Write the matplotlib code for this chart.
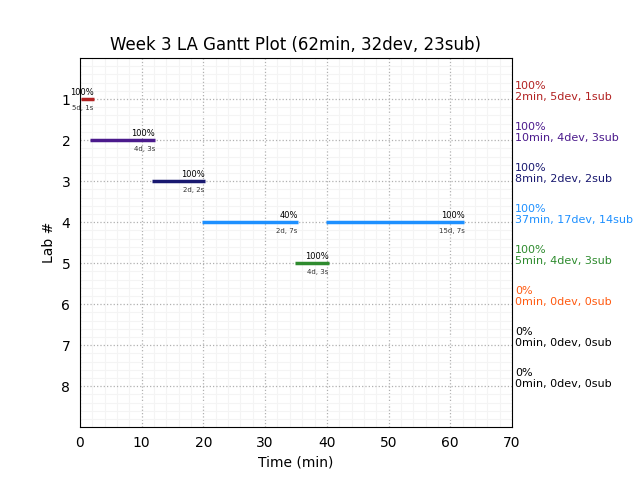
import matplotlib
matplotlib.use('Agg')
import matplotlib.pyplot as plt
from matplotlib.ticker import MultipleLocator

# Datos (segmentos por laboratorio)
seg_lab = [1, 2, 3, 4, 4, 5]
seg_start = [0.1, 1.7, 11.7, 19.8, 39.8, 34.8]
seg_end = [2.2, 12.2, 20.2, 35.3, 62.3, 40.3]
seg_pct = ['100%', '100%', '100%', '40%', '100%', '100%']
seg_info = ['5d, 1s', '4d, 3s', '2d, 2s', '2d, 7s', '15d, 7s', '4d, 3s']

labs = [1, 2, 3, 4, 5, 6, 7, 8]
lab_pct = ['100%', '100%', '100%', '100%', '100%', '0%', '0%', '0%']
lab_min = [2, 10, 8, 37, 5, 0, 0, 0]
lab_dev = [5, 4, 2, 17, 4, 0, 0, 0]
lab_sub = [1, 3, 2, 14, 3, 0, 0, 0]
lab_colors = ['#b22222', '#4b1a8c', '#191970', '#1e90ff', '#2e8b2e',
              '#ff5a10', 'black', 'black']

fig = plt.figure(figsize=(6.4, 4.8), dpi=100)
ax = fig.add_axes([0.125, 0.11, 0.675, 0.769])

for lab, s, e, p, info in zip(seg_lab, seg_start, seg_end, seg_pct, seg_info):
    c = lab_colors[lab - 1]
    ax.hlines(lab, s, e, colors=c, linewidth=2.5, zorder=3)
    ax.text(e, lab - 0.06, p, fontsize=6, ha='right', va='bottom', color='black')
    ax.text(e, lab + 0.15, info, fontsize=5, ha='right', va='top', color='#333333')

for lab, p, m, d, sb, c in zip(labs, lab_pct, lab_min, lab_dev, lab_sub, lab_colors):
    ax.text(70.5, lab + 0.07, '%s\n%dmin, %ddev, %dsub' % (p, m, d, sb),
            fontsize=8, color=c, ha='left', va='bottom', linespacing=1.15,
            clip_on=False)

ax.set_xlim(0, 70)
ax.set_ylim(9, 0)
ax.set_yticks(labs)
ax.set_xticks(range(0, 71, 10))
ax.xaxis.set_minor_locator(MultipleLocator(2))
ax.yaxis.set_minor_locator(MultipleLocator(0.2))
ax.tick_params(which='both', length=0)
ax.tick_params(axis='y', pad=7)
ax.tick_params(axis='x', pad=6)
ax.grid(True, which='major', linestyle=':', color='#b0b0b0', linewidth=0.9)
ax.grid(True, which='minor', linestyle='-', color='#f4f4f4', linewidth=0.8)
ax.set_axisbelow(True)

ax.set_xlabel('Time (min)')
ax.set_ylabel('Lab #')
ax.set_title('Week 3 LA Gantt Plot (%dmin, %ddev, %dsub)' % (62, 32, 23), fontsize=12)

plt.savefig('out.png', dpi=100)
